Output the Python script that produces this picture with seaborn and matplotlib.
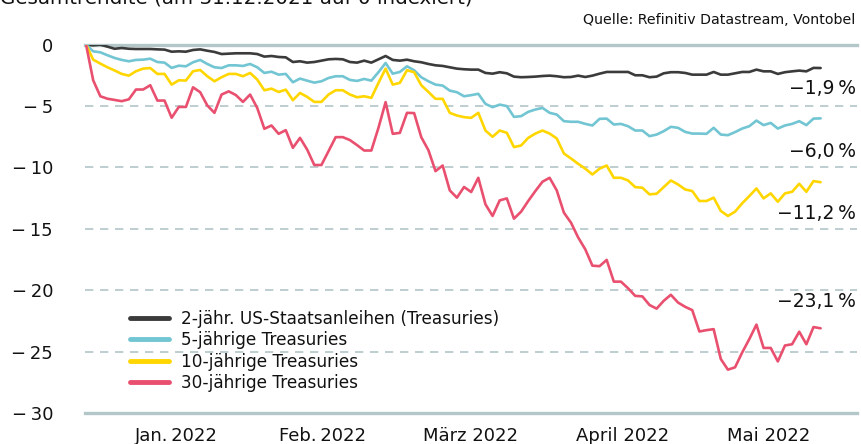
import matplotlib
matplotlib.use("Agg")
import matplotlib.pyplot as plt
import seaborn as sns
import pandas as pd
import numpy as np

# ---- data (total return, indexed to 0 on 31.12.2021), business days 31.12.2021 .. 25.05.2022
dates = pd.bdate_range("2021-12-31", "2022-05-25")

t2y = [0, -0.05, 0.0, -0.16, -0.33, -0.27, -0.33, -0.35, -0.35, -0.35,
       -0.38, -0.4, -0.57, -0.54, -0.57, -0.43, -0.38, -0.49, -0.59, -0.76,
       -0.73, -0.7, -0.7, -0.7, -0.76, -0.97, -0.92, -1.0, -1.03, -1.41,
       -1.35, -1.46, -1.41, -1.3, -1.19, -1.16, -1.19, -1.41, -1.46, -1.3,
       -1.46, -1.19, -0.92, -1.24, -1.3, -1.22, -1.35, -1.43, -1.57, -1.68,
       -1.73, -1.84, -1.95, -2.0, -2.03, -2.03, -2.3, -2.36, -2.24, -2.33,
       -2.6, -2.65, -2.63, -2.6, -2.55, -2.52, -2.57, -2.65, -2.63, -2.52,
       -2.63, -2.52, -2.36, -2.22, -2.22, -2.22, -2.22, -2.49, -2.49, -2.65,
       -2.6, -2.33, -2.24, -2.24, -2.3, -2.44, -2.44, -2.44, -2.22, -2.44,
       -2.44, -2.33, -2.22, -2.22, -2.03, -2.17, -2.17, -2.38, -2.24, -2.17,
       -2.11, -2.17, -1.89, -1.9]

t5y = [0, -0.54, -0.62, -0.86, -1.08, -1.24, -1.35, -1.24, -1.22, -1.14,
       -1.41, -1.46, -1.89, -1.71, -1.76, -1.43, -1.24, -1.57, -1.84, -1.9,
       -1.68, -1.68, -1.73, -1.57, -1.84, -2.3, -2.2, -2.44, -2.38, -3.06,
       -2.76, -2.93, -3.09, -2.98, -2.71, -2.57, -2.57, -2.87, -2.95, -2.79,
       -2.93, -2.24, -1.49, -2.36, -2.22, -1.76, -2.08, -2.65, -2.98, -3.25,
       -3.33, -3.74, -3.87, -4.2, -4.11, -4.0, -4.82, -5.09, -4.88, -5.0,
       -5.88, -5.82, -5.47, -5.28, -5.15, -5.55, -5.69, -6.23, -6.28, -6.28,
       -6.45, -6.58, -6.04, -6.02, -6.5, -6.45, -6.64, -6.99, -6.99, -7.45,
       -7.32, -7.04, -6.69, -6.77, -7.1, -7.24, -7.24, -7.26, -6.77, -7.32,
       -7.37, -7.12, -6.83, -6.64, -6.18, -6.55, -6.37, -6.83, -6.58, -6.45,
       -6.23, -6.55, -6.02, -6.0]

t10y = [0, -1.22, -1.54, -1.84, -2.1, -2.38, -2.52, -2.16, -1.95, -1.9,
        -2.38, -2.38, -3.25, -2.9, -2.92, -2.16, -2.06, -2.57, -2.98, -2.65,
        -2.38, -2.38, -2.57, -2.3, -2.84, -3.71, -3.58, -3.85, -3.66, -4.52,
        -3.93, -4.25, -4.66, -4.66, -4.06, -3.71, -3.71, -4.06, -4.28, -4.2,
        -4.33, -3.11, -1.95, -3.25, -3.11, -2.08, -2.24, -3.3, -3.85, -4.41,
        -4.41, -5.55, -5.77, -5.9, -5.96, -5.55, -6.99, -7.5, -6.99, -7.18,
        -8.34, -8.21, -7.59, -7.24, -6.99, -7.24, -7.64, -8.86, -9.27, -9.7,
        -10.1, -10.57, -10.1, -9.84, -10.84, -10.84, -11.06, -11.6, -11.65, -12.19,
        -12.14, -11.6, -11.06, -11.38, -11.79, -11.92, -12.73, -12.73, -12.46, -13.54,
        -13.95, -13.6, -12.92, -12.33, -11.71, -12.52, -12.11, -12.79, -12.11, -11.98,
        -11.33, -11.98, -11.11, -11.2]

t30y = [0, -2.9, -4.2, -4.4, -4.5, -4.6, -4.45, -3.65, -3.65, -3.3,
        -4.55, -4.55, -5.95, -5.07, -5.07, -3.47, -3.87, -4.95, -5.55, -4.06,
        -3.8, -4.1, -4.66, -4.06, -5.15, -6.85, -6.58, -7.26, -6.96, -8.4,
        -7.59, -8.54, -9.8, -9.8, -8.67, -7.53, -7.53, -7.77, -8.18, -8.62,
        -8.62, -6.77, -4.68, -7.26, -7.18, -5.55, -5.57, -7.53, -8.59, -10.3,
        -9.84, -11.87, -12.46, -11.59, -12.0, -10.84, -13.0, -13.95, -12.68, -12.52,
        -14.17, -13.6, -12.73, -11.92, -11.16, -10.84, -11.87, -13.68, -14.5, -15.7,
        -16.67, -18.0, -18.04, -17.53, -19.3, -19.3, -19.84, -20.46, -20.5, -21.2,
        -21.5, -20.86, -20.37, -21.0, -21.35, -21.62, -23.36, -23.25, -23.17, -25.6,
        -26.47, -26.28, -25.07, -23.98, -22.8, -24.7, -24.7, -25.8, -24.5, -24.4,
        -23.38, -24.4, -23.0, -23.1]

series_names = ["2-jähr. US-Staatsanleihen (Treasuries)", "5-jährige Treasuries",
                "10-jährige Treasuries", "30-jährige Treasuries"]
series_values = [t2y, t5y, t10y, t30y]
colors = ["#3b3b3b", "#72c5d2", "#ffd600", "#e9506f"]
end_labels = ["\u22121,9\u2009%", "\u22126,0\u2009%", "\u221211,2\u2009%", "\u221223,1\u2009%"]
end_label_y = [-3.6, -8.72, -13.76, -20.9]

month_labels = ["Jan.\u20092022", "Feb.\u20092022", "März 2022", "April 2022", "Mai 2022"]
month_pos = [12.6, 33.1, 53.9, 75.2, 95.7]
yticks = [0, -5, -10, -15, -20, -25, -30]
ytick_labels = ["0", "\u2212\u20095", "\u2212\u200910", "\u2212\u200915", "\u2212\u200920", "\u2212\u200925", "\u2212\u200930"]

title = "Gesamtrendite (am 31.12.2021 auf 0 indexiert)"
source = "Quelle: Refinitiv Datastream, Vontobel"

# ---- long dataframe
frames = []
for name, vals in zip(series_names, series_values):
    frames.append(pd.DataFrame({"idx": np.arange(len(vals)), "date": dates[:len(vals)],
                                "value": vals, "series": name}))
df = pd.concat(frames, ignore_index=True)

sns.set_theme(style="white")
plt.rcParams["font.family"] = ["DejaVu Sans"]

W, H = 861, 444
fig = plt.figure(figsize=(W / 100, H / 100), dpi=100)
ax = fig.add_axes([85 / W, 1 - 413 / H, (857 - 85) / W, (413 - 44.7) / H])

grid_col = "#b3c6c8"
sns.lineplot(data=df, x="idx", y="value", hue="series", hue_order=series_names,
             palette=dict(zip(series_names, colors)), linewidth=1.9, ax=ax,
             legend=False, zorder=3)

ax.set_xlim(-0.15, 108.1)
ax.set_ylim(-30, 0)
ax.set_xlabel("")
ax.set_ylabel("")

for s in ["left", "right"]:
    ax.spines[s].set_visible(False)
for s in ["top", "bottom"]:
    ax.spines[s].set_visible(True)
    ax.spines[s].set_color(grid_col)
    ax.spines[s].set_linewidth(2.4)
    ax.spines[s].set_zorder(1)

ax.set_yticks(yticks)
ax.set_yticklabels(ytick_labels)
ax.yaxis.grid(True, linestyle=(0, (5, 4)), color=grid_col, linewidth=1.2, zorder=0)
ax.xaxis.grid(False)
ax.tick_params(axis="y", length=0, pad=23, labelsize=13, labelcolor="#111111")
ax.set_xticks(month_pos)
ax.set_xticklabels(month_labels)
ax.tick_params(axis="x", length=0, pad=10, labelsize=13, labelcolor="#111111")
ax.set_facecolor("white")

# end labels
x_right = 107.9
for lab, yv in zip(end_labels, end_label_y):
    ax.text(x_right, yv, lab, ha="right", va="center", fontsize=13.5, color="#111111")

# legend
from matplotlib.lines import Line2D
handles = [Line2D([0], [0], color=c, lw=3.5) for c in colors]
leg = ax.legend(handles, series_names, loc="upper left",
                bbox_to_anchor=((123 - 85) / (857 - 85), (413 - 303) / (413 - 44.7)),
                frameon=False, fontsize=12.2, handlelength=2.3, handletextpad=0.75,
                labelspacing=0.2, borderaxespad=0)
for t in leg.get_texts():
    t.set_color("#111111")

fig.text(0.0, 1 - 4 / H, title, ha="left", va="baseline", fontsize=14.3, color="#111111")
fig.text(855 / W, 1 - 20 / H, source, ha="right", va="center", fontsize=10.2, color="#111111")

fig.savefig("out.png", dpi=100, facecolor="white")
